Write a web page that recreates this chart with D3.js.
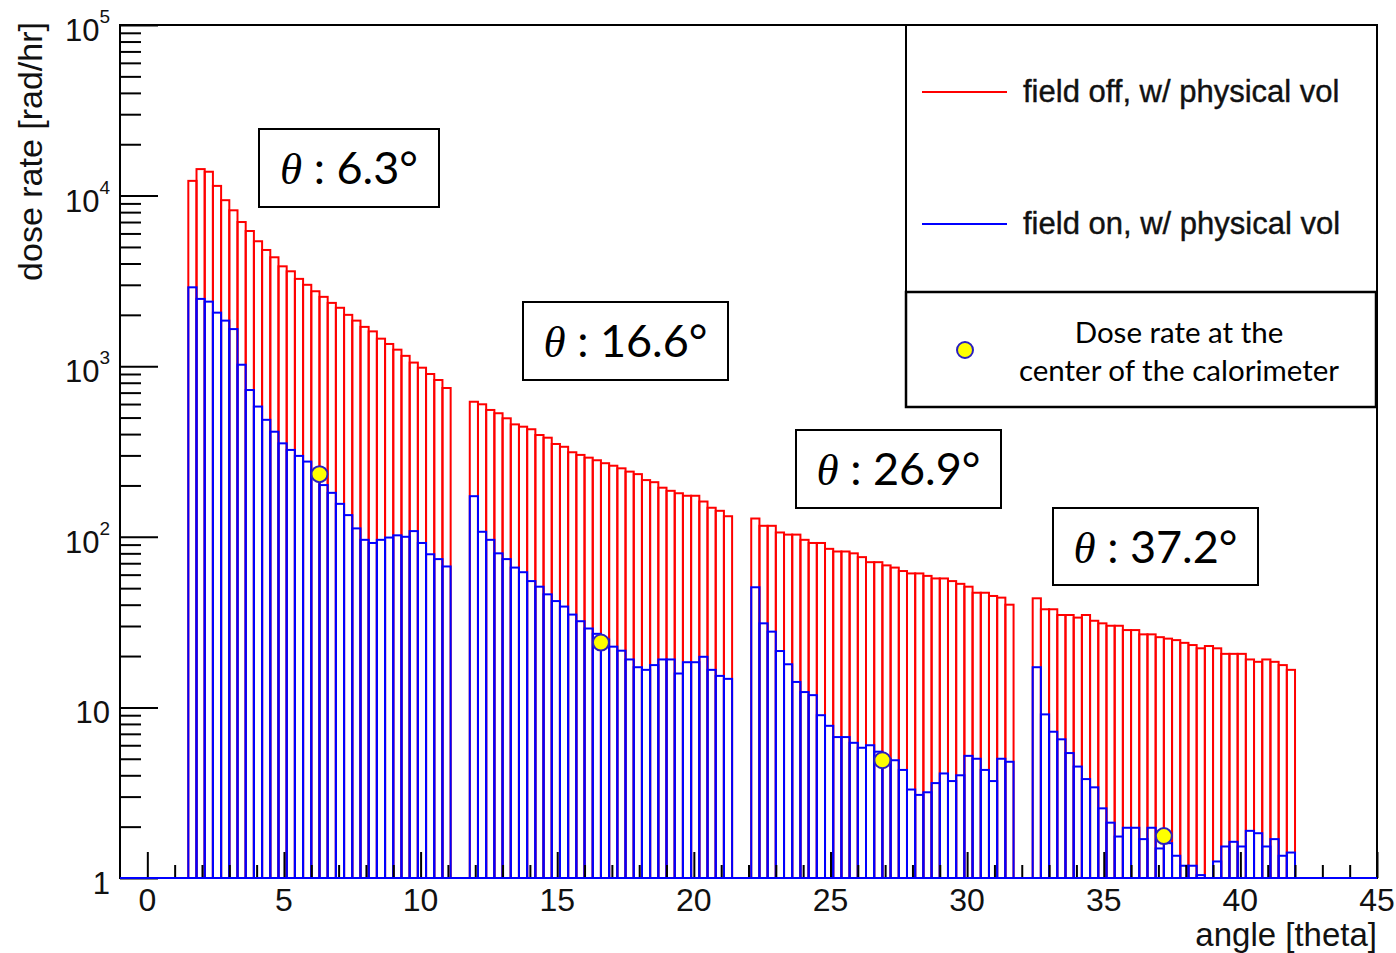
<!DOCTYPE html>
<html>
<head>
<meta charset="utf-8">
<script src="https://cdn.jsdelivr.net/npm/d3@7"></script>
<style>
  body { margin: 0; background: #fff; }
  svg { display: block; }
</style>
</head>
<body>
<svg id="chart" width="1396" height="953"></svg>
<script>
// Calorimeter positions (theta, degrees); each histogram block spans center ± 4.8 in 0.3° bins
const segmentCenters = [6.3, 16.6, 26.9, 37.2];
const binWidth = 0.3;
const halfSpan = 4.8;

// Dose rate [rad/hr], field off, with physical volume
const fieldOff_6_3 = [12200, 14300, 13800, 11400, 9400, 8200, 7000, 6200, 5400, 4800, 4350, 3850,
  3600, 3250, 3000, 2750, 2550, 2350, 2200, 2000, 1850, 1700, 1600, 1450, 1350, 1250, 1150, 1050, 980, 900, 830, 745];
const fieldOff_16_6 = [619, 598, 554, 530, 495, 456, 442, 427, 395, 381, 350, 337, 313, 302, 291, 281,
  270, 261, 252, 241, 233, 215, 209, 194, 186, 180, 174, 174, 161, 148, 142, 132];
const fieldOff_26_9 = [128, 116, 116, 106, 103, 103, 96, 92, 92, 85, 82, 82, 80, 76, 71, 71,
  68, 66, 63, 61, 61, 59, 57, 57, 55, 53, 51, 47, 47, 45, 44, 40];
const fieldOff_37_2 = [43.6, 37.6, 37.6, 34.8, 34.8, 33.6, 34.8, 32.2, 31.1, 30.1, 30.1, 28.4, 28.4, 26.8, 26.8, 25.8,
  25.3, 24.8, 23.9, 23.2, 22.2, 22.9, 22.2, 20.6, 20.6, 20.6, 19.1, 18.5, 19.1, 18.5, 17.7, 16.6];

// Dose rate [rad/hr], field on, with physical volume
const fieldOn_6_3 = [2900, 2480, 2390, 2060, 1850, 1650, 1020, 725, 580, 485, 413, 353, 323, 298, 276, 246,
  201, 181, 156, 134, 112, 96, 92, 96, 99, 102, 100, 108, 92, 79, 74, 67];
const fieldOn_16_6 = [173, 107, 96, 80, 74, 66, 62, 55, 51, 46, 42, 39, 35, 32, 29, 27,
  25, 22.7, 21.5, 19.1, 17.2, 16.6, 17.7, 19.1, 19.1, 15.8, 18.4, 18.4, 19.8, 16.6, 15.3, 14.7];
const fieldOn_26_9 = [50.6, 31.1, 27.8, 21.4, 17.9, 14.1, 12.3, 11.8, 9.0, 7.8, 6.7, 6.7, 6.2, 5.8, 6.0, 5.5,
  5.0, 4.9, 4.3, 3.3, 3.07, 3.18, 3.6, 4.1, 3.7, 4.0, 5.2, 5.0, 4.3, 3.7, 5.0, 4.8];
const fieldOn_37_2 = [17.2, 9.1, 7.2, 6.5, 5.4, 4.5, 3.8, 3.4, 2.56, 2.11, 1.75, 1.97, 1.97, 1.69, 1.97, 1.49,
  1.60, 1.35, 1.18, 1.18, 1.04, 1.0, 1.25, 1.53, 1.63, 1.53, 1.89, 1.83, 1.53, 1.69, 1.35, 1.41];

// Dose rate at the center of the calorimeter
const centerTheta = [6.3, 16.6, 26.9, 37.2];
const centerDose = [233, 24, 4.9, 1.76];

// Axis ticks and legend texts
const xMajorTicks = [0, 5, 10, 15, 20, 25, 30, 35, 40, 45];
const yDecades = [0, 1, 2, 3, 4, 5];
const legendLabels = ["field off, w/ physical vol", "field on, w/ physical vol"];
const centerLegendLines = ["Dose rate at the", "center of the calorimeter"];

const fieldOff = [fieldOff_6_3, fieldOff_16_6, fieldOff_26_9, fieldOff_37_2];
const fieldOn = [fieldOn_6_3, fieldOn_16_6, fieldOn_26_9, fieldOn_37_2];

const svg = d3.select("#chart");
const x = d3.scaleLinear().domain([-1, 45]).range([120, 1377]);
const y = d3.scaleLog().domain([1, 1e5]).range([878, 25]);

const sansAxis = "'Liberation Sans', Arial, Helvetica, sans-serif";
const sansNote = "Lato, 'Open Sans', 'Noto Sans', sans-serif";

function toBins(values, center) {
  return values.map((v, k) => ({
    x0: center - halfSpan + k * binWidth,
    x1: center - halfSpan + (k + 1) * binWidth,
    v: Math.max(v, 1)
  }));
}

function drawHist(series, color) {
  const data = series.flatMap((vals, i) => toBins(vals, segmentCenters[i]));
  svg.append("g")
    .selectAll("rect")
    .data(data)
    .join("rect")
    .attr("x", d => x(d.x0))
    .attr("width", d => x(d.x1) - x(d.x0))
    .attr("y", d => y(d.v))
    .attr("height", d => y(1) - y(d.v))
    .attr("fill", "none")
    .attr("stroke", color)
    .attr("stroke-width", 2);
}

drawHist(fieldOff, "#ff0000");
drawHist(fieldOn, "#0000ff");

// Frame
svg.append("rect")
  .attr("x", x(-1)).attr("y", y(1e5))
  .attr("width", x(45) - x(-1)).attr("height", y(1) - y(1e5))
  .attr("fill", "none").attr("stroke", "#000").attr("stroke-width", 2);

// X ticks (inside, pointing up)
const xMinorTicks = d3.range(0, 46, 1).filter(v => v % 5 !== 0);
const xAxisG = svg.append("g").attr("transform", `translate(0,${y(1)})`);
xAxisG.call(d3.axisBottom(x).tickValues(xMajorTicks).tickSize(-26).tickFormat(""));
xAxisG.call(g => g.select(".domain").remove());
const xMinorG = svg.append("g").attr("transform", `translate(0,${y(1)})`);
xMinorG.call(d3.axisBottom(x).tickValues(xMinorTicks).tickSize(-13).tickFormat(""));
xMinorG.call(g => g.select(".domain").remove());

// Y ticks (inside, pointing right)
const yMajor = yDecades.map(n => Math.pow(10, n));
const yMinor = yDecades.slice(0, -1).flatMap(n => d3.range(2, 10).map(m => m * Math.pow(10, n)));
const yAxisG = svg.append("g").attr("transform", `translate(${x(-1)},0)`);
yAxisG.call(d3.axisLeft(y).tickValues(yMajor).tickSize(-38).tickFormat(""));
yAxisG.call(g => g.select(".domain").remove());
const yMinorG = svg.append("g").attr("transform", `translate(${x(-1)},0)`);
yMinorG.call(d3.axisLeft(y).tickValues(yMinor).tickSize(-21).tickFormat(""));
yMinorG.call(g => g.select(".domain").remove());
svg.selectAll(".tick line").attr("stroke", "#000").attr("stroke-width", 2);

// Empty bins along the baseline
svg.append("line")
  .attr("x1", x(-1)).attr("x2", x(45))
  .attr("y1", y(1)).attr("y2", y(1))
  .attr("stroke", "#0000ff").attr("stroke-width", 2);

// X tick labels
svg.append("g")
  .selectAll("text")
  .data(xMajorTicks)
  .join("text")
  .attr("x", d => x(d))
  .attr("y", y(1) + 33)
  .attr("text-anchor", "middle")
  .attr("font-family", sansAxis)
  .attr("font-size", 32)
  .attr("fill", "#111")
  .text(d => d);

// Y tick labels
const yLab = svg.append("g")
  .attr("font-family", sansAxis)
  .attr("font-size", 31)
  .attr("fill", "#111");
yDecades.forEach(n => {
  const t = yLab.append("text")
    .attr("x", 110)
    .attr("y", y(Math.pow(10, n)) + 16)
    .attr("text-anchor", "end");
  if (n === 0) t.text("1");
  else if (n === 1) t.text("10");
  else {
    t.append("tspan").text("10");
    t.append("tspan").attr("font-size", 19).attr("dy", -18).text(n);
  }
});

// Axis titles
svg.append("text")
  .attr("x", x(45))
  .attr("y", 946)
  .attr("text-anchor", "end")
  .attr("font-family", sansAxis)
  .attr("font-size", 33)
  .attr("fill", "#111")
  .text("angle [theta]");

svg.append("text")
  .attr("transform", "translate(42,22) rotate(-90)")
  .attr("text-anchor", "end")
  .attr("font-family", sansAxis)
  .attr("font-size", 34)
  .attr("fill", "#111")
  .text("dose rate [rad/hr]");

// Legend box with the two histograms
const leg = svg.append("g");
leg.append("rect")
  .attr("x", 906).attr("y", 25).attr("width", 471).attr("height", 267)
  .attr("fill", "#fff").attr("stroke", "#000").attr("stroke-width", 2);
const legColors = ["#ff0000", "#0000ff"];
const legY = [92, 224];
legendLabels.forEach((label, i) => {
  leg.append("line")
    .attr("x1", 922).attr("x2", 1007)
    .attr("y1", legY[i]).attr("y2", legY[i])
    .attr("stroke", legColors[i]).attr("stroke-width", 2);
  leg.append("text")
    .attr("x", 1023).attr("y", legY[i] + 10)
    .attr("font-family", sansAxis)
    .attr("font-size", 31)
    .attr("fill", "#111")
    .attr("stroke", "#111")
    .attr("stroke-width", 0.4)
    .text(label);
});

// Legend box for the calorimeter-center marker
const leg2 = svg.append("g");
leg2.append("rect")
  .attr("x", 906).attr("y", 292).attr("width", 470).attr("height", 115)
  .attr("fill", "#fff").attr("stroke", "#000").attr("stroke-width", 2.5);
leg2.append("circle")
  .attr("cx", 965).attr("cy", 350).attr("r", 8)
  .attr("fill", "#ffff00").attr("stroke", "#2a1fc0").attr("stroke-width", 2);
centerLegendLines.forEach((line, i) => {
  leg2.append("text")
    .attr("x", 1179).attr("y", 343 + i * 38)
    .attr("text-anchor", "middle")
    .attr("font-family", sansNote)
    .attr("font-size", 29.5)
    .attr("fill", "#000")
    .text(line);
});

// Theta annotation boxes
const noteBoxes = [
  { x: 259, y: 129, w: 180, h: 78 },
  { x: 523, y: 302, w: 205, h: 78 },
  { x: 796, y: 430, w: 205, h: 78 },
  { x: 1053, y: 508, w: 205, h: 77 }
];
segmentCenters.forEach((c, i) => {
  const b = noteBoxes[i];
  const g = svg.append("g");
  g.append("rect")
    .attr("x", b.x).attr("y", b.y).attr("width", b.w).attr("height", b.h)
    .attr("fill", "#fff").attr("stroke", "#000").attr("stroke-width", 2);
  const t = g.append("text")
    .attr("x", b.x + b.w / 2)
    .attr("y", b.y + b.h / 2 + 16)
    .attr("text-anchor", "middle")
    .attr("font-family", sansNote)
    .attr("font-size", 45)
    .attr("fill", "#000");
  t.append("tspan")
    .attr("font-family", "'Liberation Serif', 'DejaVu Serif', serif")
    .attr("font-style", "italic")
    .text("θ");
  t.append("tspan").text(` : ${c}°`);
});

// Calorimeter-center dose markers
svg.append("g")
  .selectAll("circle")
  .data(centerTheta.map((t, i) => ({ t, d: centerDose[i] })))
  .join("circle")
  .attr("cx", d => x(d.t))
  .attr("cy", d => y(d.d))
  .attr("r", 8)
  .attr("fill", "#ffff00")
  .attr("stroke", "#2a1fc0")
  .attr("stroke-width", 2);
</script>
</body>
</html>
